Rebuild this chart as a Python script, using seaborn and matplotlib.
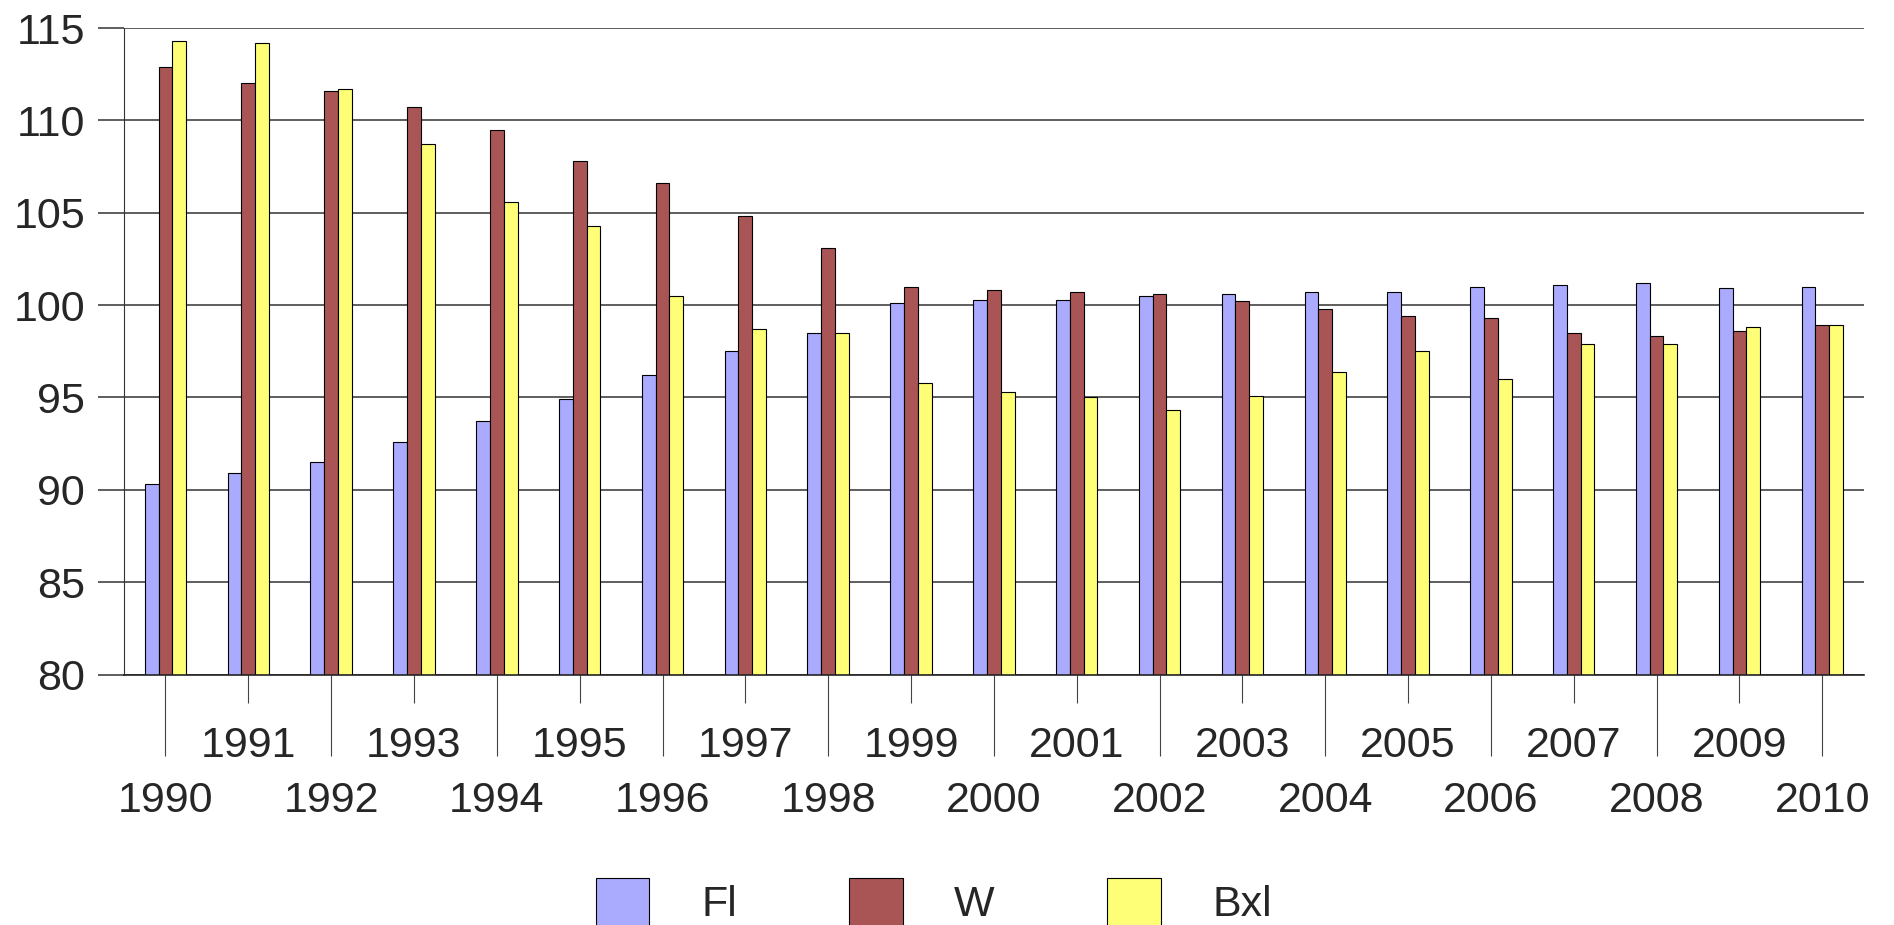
import matplotlib as mpl
mpl.use('Agg')
import matplotlib.pyplot as plt
import pandas as pd
import seaborn as sns

years = [str(y) for y in range(1990, 2011)]
fl = [90.3, 90.9, 91.5, 92.6, 93.7, 94.9, 96.2, 97.5, 98.5, 100.1, 100.3,
      100.3, 100.5, 100.6, 100.7, 100.7, 101.0, 101.1, 101.2, 100.9, 101.0]
w = [112.9, 112.0, 111.6, 110.7, 109.5, 107.8, 106.6, 104.8, 103.1, 101.0, 100.8,
     100.7, 100.6, 100.2, 99.8, 99.4, 99.3, 98.5, 98.3, 98.6, 98.9]
bxl = [114.3, 114.2, 111.7, 108.7, 105.6, 104.3, 100.5, 98.7, 98.5, 95.8, 95.3,
       95.0, 94.3, 95.1, 96.4, 97.5, 96.0, 97.9, 97.9, 98.8, 98.9]
regions = ['Fl', 'W', 'Bxl']
colors = ['#aaaaff', '#aa5555', '#ffff77']


def main():
    df = pd.DataFrame({'year': years * 3,
                       'value': fl + w + bxl,
                       'region': [r for r in regions for _ in years]})

    sns.set_style('white')
    plt.rcParams['font.family'] = ['Liberation Sans', 'DejaVu Sans']

    fig, ax = plt.subplots(figsize=(18.94, 9.25), dpi=100)
    fig.subplots_adjust(left=0.0655, right=0.984, top=0.9697, bottom=0.2708)

    sns.barplot(data=df, x='year', y='value', hue='region', order=years,
                hue_order=regions, palette=colors, width=0.5,
                edgecolor='black', linewidth=0.8, saturation=1, ax=ax)

    ax.set_ylim(80, 115)
    ax.set_xlim(-0.5, 20.5)
    ax.set_yticks(range(80, 116, 5))
    ax.yaxis.grid(True, color='#333333', linewidth=1.1)
    ax.set_axisbelow(True)
    for s in ['top', 'right']:
        ax.spines[s].set_visible(False)
    ax.spines['left'].set_color('#333333')
    ax.spines['bottom'].set_color('#222222')
    ax.spines['bottom'].set_linewidth(1.2)

    # even years get the long ticks, odd years the short ones
    ax.set_xticks(range(0, 21, 2))
    ax.set_xticklabels(years[::2])
    ax.set_xticks(range(1, 21, 2), minor=True)
    ax.set_xticklabels(years[1::2], minor=True)
    ax.tick_params(axis='x', which='major', length=58, width=0.8, color='#444444',
                   pad=18.5, labelsize=31, bottom=True)
    ax.tick_params(axis='x', which='minor', length=20, width=0.8, color='#444444',
                   pad=17, labelsize=31, bottom=True)
    ax.tick_params(axis='y', length=19, width=1.1, color='#333333', pad=9,
                   labelsize=31, left=True)

    ax.set_xlabel('')
    ax.set_ylabel('')

    handles, labels = ax.get_legend_handles_labels()
    ax.get_legend().remove()
    fig.legend(handles, labels, loc='center', bbox_to_anchor=(0.493, 0.025),
               ncol=3, frameon=False, fontsize=31, handlelength=1.25,
               handleheight=1.35, handletextpad=1.2, columnspacing=2.6)

    fig.savefig('out.png', dpi=100)


if __name__ == '__main__':
    main()
